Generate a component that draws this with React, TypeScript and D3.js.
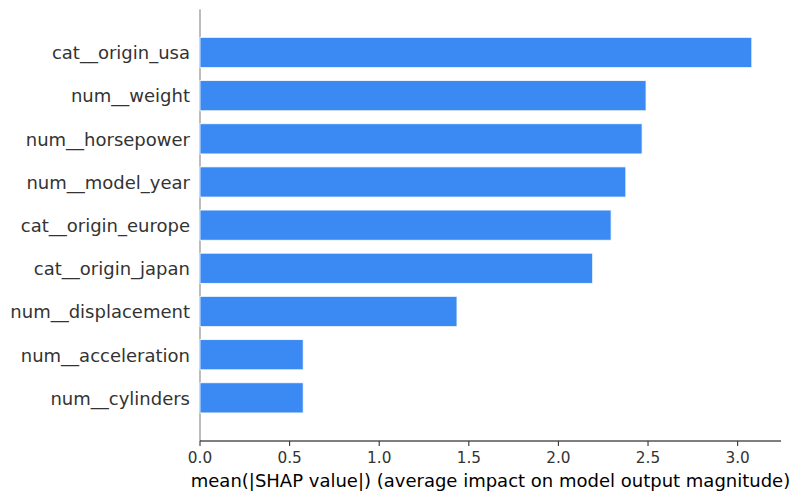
import * as React from "react";
import * as d3 from "d3";

const FEATURES: string[] = [
  "cat__origin_usa",
  "num__weight",
  "num__horsepower",
  "num__model_year",
  "cat__origin_europe",
  "cat__origin_japan",
  "num__displacement",
  "num__acceleration",
  "num__cylinders",
];

const MEAN_ABS_SHAP: number[] = [3.079, 2.489, 2.467, 2.376, 2.294, 2.191, 1.434, 0.576, 0.576];

const X_TICKS: number[] = [0, 0.5, 1, 1.5, 2, 2.5, 3];

const X_LABEL = "mean(|SHAP value|) (average impact on model output magnitude)";

const FONT = "DejaVu Sans, sans-serif";
const BAR_COLOR = "#3b89f2";
const AXIS_COLOR = "#333333";

export default function App() {
  const [width, height] = [790, 499];
  const margin = { left: 200, right: 9, top: 9.3, bottom: 58 };
  const plotRight = width - margin.right;
  const plotBottom = height - margin.bottom;

  const x = d3.scaleLinear().domain([0, 3.242]).range([margin.left, plotRight]);
  // matplotlib-like index axis: one extra unit above and below
  const y = d3
    .scaleLinear()
    .domain([-1, FEATURES.length])
    .range([margin.top, plotBottom]);
  const barH = (y(1) - y(0)) * 0.7;

  return (
    <svg
      width={width}
      height={height}
      style={{ position: "absolute", left: 0, top: 0, background: "#fff" }}
      fontFamily={FONT}
    >
      {/* grey line at x = 0 */}
      <line
        x1={x(0)}
        x2={x(0)}
        y1={margin.top}
        y2={plotBottom}
        stroke="#999999"
        strokeWidth={1.3}
      />

      {FEATURES.map((f, i) => (
        <g key={f}>
          <rect
            x={x(0)}
            y={y(i) - barH / 2}
            width={x(MEAN_ABS_SHAP[i]) - x(0)}
            height={barH}
            fill={BAR_COLOR}
            stroke="rgba(255,255,255,0.8)"
            strokeWidth={1}
          />
          <text
            x={margin.left - 10}
            y={y(i)}
            dy="0.38em"
            textAnchor="end"
            fontSize={18}
            fill={AXIS_COLOR}
          >
            {f}
          </text>
        </g>
      ))}

      {/* bottom spine */}
      <line
        x1={margin.left}
        x2={plotRight}
        y1={plotBottom}
        y2={plotBottom}
        stroke="#000"
        strokeWidth={1.1}
      />
      {X_TICKS.map((t) => (
        <g key={t} transform={`translate(${x(t)},${plotBottom})`}>
          <line y1={0} y2={4.9} stroke={AXIS_COLOR} strokeWidth={1.1} />
          <text
            y={21.5}
            textAnchor="middle"
            fontSize={15.3}
            fill={AXIS_COLOR}
          >
            {d3.format(".1f")(t)}
          </text>
        </g>
      ))}
      <text
        x={(margin.left + plotRight) / 2}
        y={487}
        textAnchor="middle"
        fontSize={18}
        fill="#000"
      >
        {X_LABEL}
      </text>
    </svg>
  );
}
